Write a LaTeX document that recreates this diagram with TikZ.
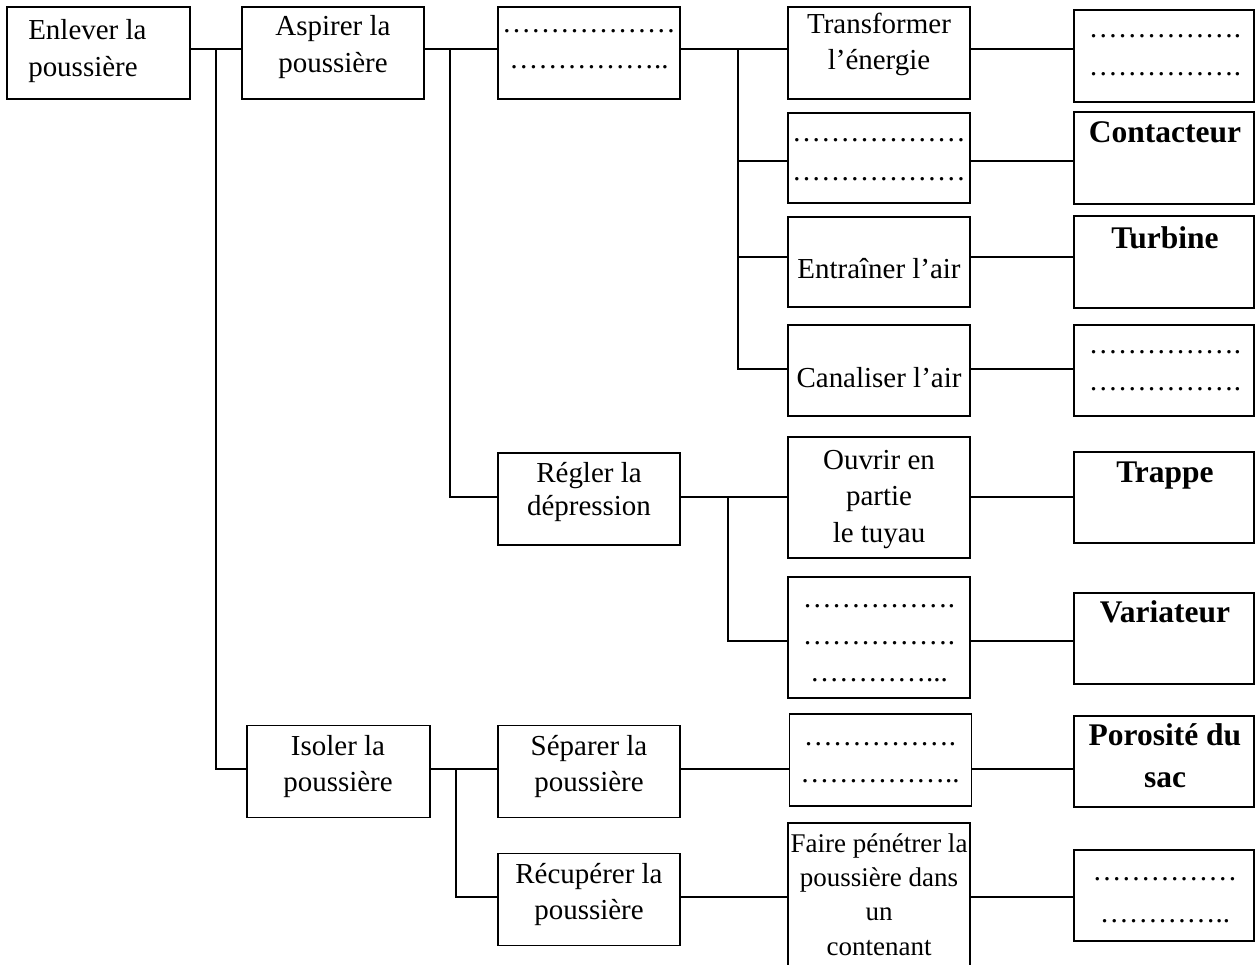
\documentclass[tikz,border=0pt]{standalone}
\usepackage{fontspec}
\setmainfont{Liberation Serif}

\begin{document}
\begin{tikzpicture}[x=0.025cm, y=-0.025cm,
  bloc/.style={draw, line width=1.3pt, inner sep=0pt, minimum width=4.55cm, minimum height=2.3cm},
  sol/.style={bloc, minimum width=4.5cm, minimum height=2.28cm},
  txt/.style={anchor=base, align=flush center, text width=4.6cm, inner sep=0pt, font=\fontsize{20.6}{26.3}\selectfont},
  gras/.style={txt, font=\fontsize{22.4}{29.9}\selectfont\bfseries},
  wire/.style={line width=1.3pt}]
%\draw[gray!35] (0,0) grid[step=100] (1256,965);
\useasboundingbox (0,0) rectangle (1256,965);

% boxes
\node[bloc, minimum width=4.575cm] (enlever) at (98.5,53) {};
\node[bloc] (aspirer) at (333,53) {};
\node[bloc] (fonc1) at (589,53) {};
\node[bloc] (transf) at (879,53) {};
\node[sol] (sol1) at (1164,56) {};
\node[bloc, minimum height=2.25cm] (fonc2) at (879,158) {};
\node[sol] (contact) at (1164,158) {};
\node[bloc, minimum height=2.25cm] (entrain) at (879,262) {};
\node[sol] (turbine) at (1164,262) {};
\node[bloc, minimum height=2.275cm] (canal) at (879,370.5) {};
\node[sol] (sol4) at (1164,370.5) {};
\node[bloc] (regler) at (589,499) {};
\node[bloc, minimum height=3.025cm] (ouvrir) at (879,497.5) {};
\node[sol] (trappe) at (1164,497.5) {};
\node[bloc, minimum height=3.025cm] (fonc3) at (879,637.5) {};
\node[sol] (variat) at (1164,638.5) {};
\node[bloc, minimum width=4.575cm] (isoler) at (338.5,771.5) {};
\node[bloc] (separer) at (589,771.5) {};
\node[bloc] (fonc4) at (880.5,760) {};
\node[sol] (porosite) at (1164,761.5) {};
\node[bloc] (recup) at (589,899.5) {};
\node[bloc, minimum height=3.8cm] (faire) at (879,899) {};
\node[sol] (sol5) at (1164,895.5) {};

% texts
\node[txt, align=flush left, anchor=base west] (tEnlever) at (28,40) {Enlever la\\poussière};
\node[txt] (tAspirer) at (333,36) {Aspirer la\\poussière};
\node[txt, font=\fontsize{20.6}{25.6}\selectfont] (tFonc1) at (589,33) {………………\\……………..};
\node[txt, font=\fontsize{20.6}{24.9}\selectfont] (tTransf) at (879,34) {Transformer\\l’énergie};
\node[txt, font=\fontsize{20.6}{27}\selectfont] (tSol1) at (1165,38) {…………….\\…………….};
\node[txt, font=\fontsize{20.6}{27.6}\selectfont] (tFonc2) at (879,142) {………………\\………………};
\node[gras] (tContact) at (1165,143) {Contacteur};
\node[txt] (tEntrain) at (879,278) {Entraîner l’air};
\node[gras] (tTurbine) at (1165,248) {Turbine};
\node[txt] (tCanal) at (879,387) {Canaliser l’air};
\node[txt, font=\fontsize{20.6}{27}\selectfont] (tSol4) at (1165,353) {…………….\\…………….};
\node[txt, font=\fontsize{20.6}{23.5}\selectfont] (tRegler) at (589,482) {Régler la\\dépression};
\node[txt] (tOuvrir) at (879,469) {Ouvrir en\\partie\\le tuyau};
\node[gras] (tTrappe) at (1165,482) {Trappe};
\node[txt, font=\fontsize{20.6}{26.6}\selectfont] (tFonc3) at (879,607) {…………….\\…………….\\…………...};
\node[gras] (tVariat) at (1165,622) {Variateur};
\node[txt] (tIsoler) at (338,755) {Isoler la\\poussière};
\node[txt] (tSeparer) at (589,755) {Séparer la\\poussière};
\node[txt, font=\fontsize{20.6}{27}\selectfont] (tFonc4) at (880,745) {…………….\\……………..};
\node[gras] (tPorosite) at (1165,745) {Porosité du\\sac};
\node[txt] (tRecup) at (589,883) {Récupérer la\\poussière};
\node[txt, font=\fontsize{19.2}{24.5}\selectfont] (tFaire) at (879,852) {Faire pénétrer la\\poussière dans\\un\\contenant};
\node[txt, font=\fontsize{20.6}{30.5}\selectfont] (tSol5) at (1165,880) {……………\\…………..};

% junctions
\coordinate (j1) at (216,49);
\coordinate (j2) at (450,49);
\coordinate (j3) at (738,49);
\coordinate (j4) at (728,497);
\coordinate (j5) at (456,769);
\coordinate (r2) at (0,161);
\coordinate (r3) at (0,257);
\coordinate (r4) at (0,369);
\coordinate (r6) at (0,641);
\coordinate (r8) at (0,897);

\draw[wire] (enlever.east |- j1) -- (aspirer.west |- j1);
\draw[wire] (j1) |- (isoler.west |- j5);
\draw[wire] (aspirer.east |- j2) -- (fonc1.west |- j2);
\draw[wire] (j2) |- (regler.west |- j4);
\draw[wire] (fonc1.east |- j3) -- (transf.west |- j3);
\draw[wire] (j3) |- (fonc2.west |- r2);
\draw[wire] (j3) |- (entrain.west |- r3);
\draw[wire] (j3) |- (canal.west |- r4);
\draw[wire] (transf.east |- j3) -- (sol1.west |- j3);
\draw[wire] (fonc2.east |- r2) -- (contact.west |- r2);
\draw[wire] (entrain.east |- r3) -- (turbine.west |- r3);
\draw[wire] (canal.east |- r4) -- (sol4.west |- r4);
\draw[wire] (regler.east |- j4) -- (ouvrir.west |- j4);
\draw[wire] (j4) |- (fonc3.west |- r6);
\draw[wire] (ouvrir.east |- j4) -- (trappe.west |- j4);
\draw[wire] (fonc3.east |- r6) -- (variat.west |- r6);
\draw[wire] (isoler.east |- j5) -- (separer.west |- j5);
\draw[wire] (j5) |- (recup.west |- r8);
\draw[wire] (separer.east |- j5) -- (fonc4.west |- j5);
\draw[wire] (fonc4.east |- j5) -- (porosite.west |- j5);
\draw[wire] (recup.east |- r8) -- (faire.west |- r8);
\draw[wire] (faire.east |- r8) -- (sol5.west |- r8);

\end{tikzpicture}
\end{document}
